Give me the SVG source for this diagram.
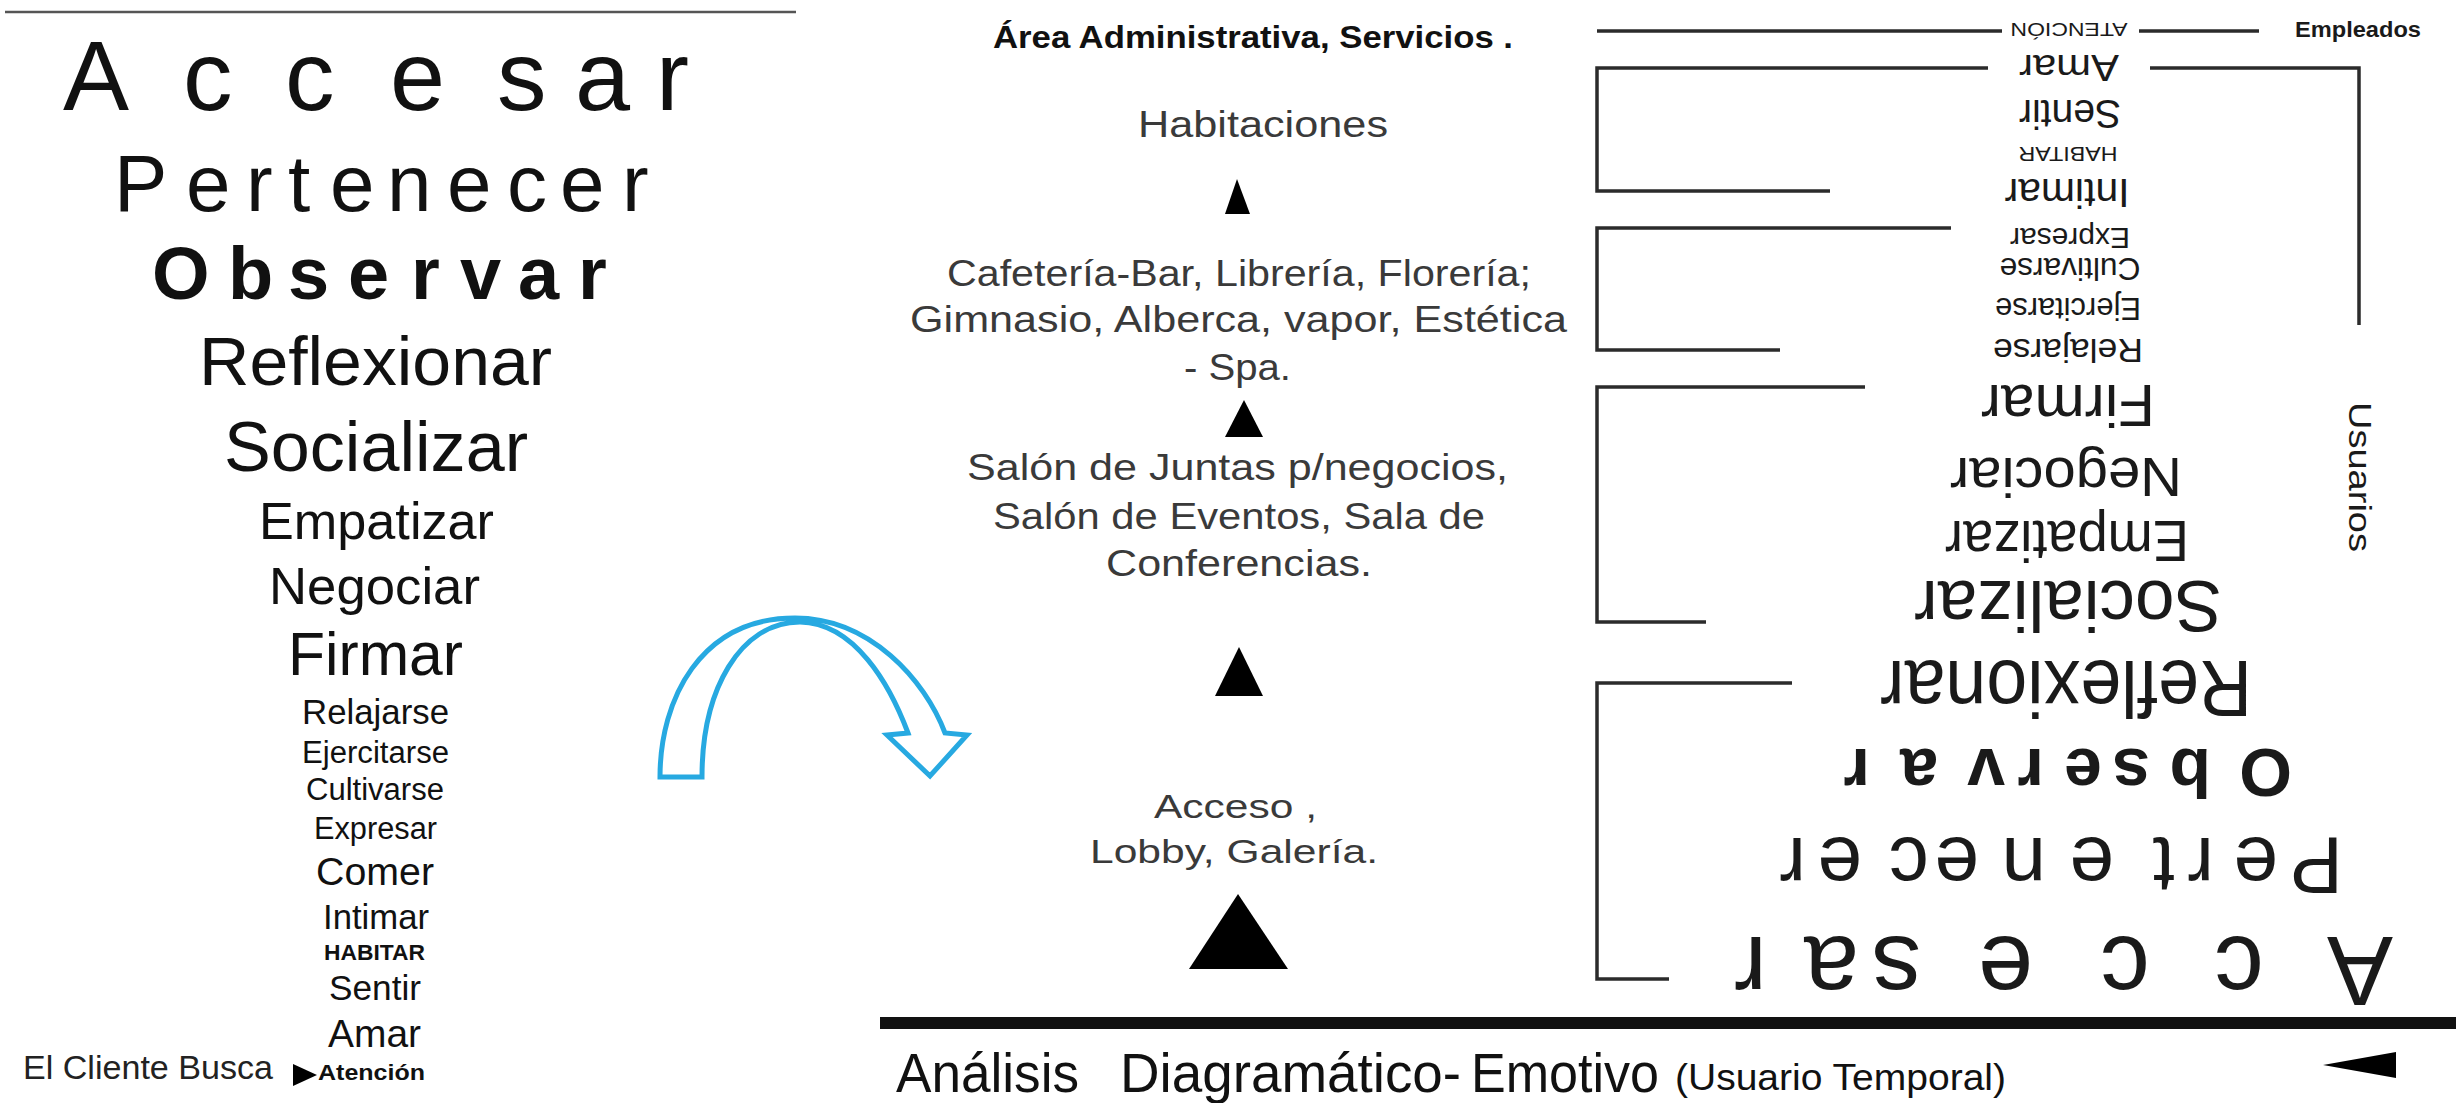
<svg xmlns="http://www.w3.org/2000/svg" width="2456" height="1103" viewBox="0 0 2456 1103">
<style>
text{font-family:"Liberation Sans",Arial,sans-serif;}
.l{fill:#111;}
.m{fill:#3a3a3a;}
.r{fill:#1a1a1a;}
.b{font-weight:bold;}
.br{fill:none;stroke:#2b2b2b;stroke-width:3.5;}
.tri{fill:#000;}
</style>
<rect width="2456" height="1103" fill="#fff"/>

<g id="left-column">
<line x1="5" y1="12" x2="796" y2="12" stroke="#555" stroke-width="2.5"/>
<text class="l" font-size="99" x="63 183 285 390 497 575 656" y="110">Accesar</text>
<text class="l" font-size="80" x="114 186 246 288 330 387 447 507 560 622" y="211">Pertenecer</text>
<text class="l b" font-size="74" x="152 228 288 348 411 460 518 578" y="299">Observar</text>
<text class="l" font-size="68" x="199" y="385" textLength="353" lengthAdjust="spacingAndGlyphs">Reflexionar</text>
<text class="l" font-size="70" x="224" y="471" textLength="304" lengthAdjust="spacingAndGlyphs">Socializar</text>
<text class="l" font-size="52" x="259" y="539" textLength="235" lengthAdjust="spacingAndGlyphs">Empatizar</text>
<text class="l" font-size="52" x="269" y="604" textLength="211" lengthAdjust="spacingAndGlyphs">Negociar</text>
<text class="l" font-size="61" x="288" y="675" textLength="175" lengthAdjust="spacingAndGlyphs">Firmar</text>
<text class="l" font-size="35" x="302" y="724" textLength="147" lengthAdjust="spacingAndGlyphs">Relajarse</text>
<text class="l" font-size="31" x="302" y="763" textLength="147" lengthAdjust="spacingAndGlyphs" fill="#333">Ejercitarse</text>
<text class="l" font-size="31" x="306" y="800" textLength="138" lengthAdjust="spacingAndGlyphs" fill="#333">Cultivarse</text>
<text class="l" font-size="31" x="314" y="839" textLength="123" lengthAdjust="spacingAndGlyphs" fill="#333">Expresar</text>
<text class="l" font-size="39" x="316" y="885" textLength="118" lengthAdjust="spacingAndGlyphs">Comer</text>
<text class="l" font-size="35" x="323" y="929" textLength="106" lengthAdjust="spacingAndGlyphs">Intimar</text>
<text class="l b" font-size="22" x="324" y="960" textLength="101" lengthAdjust="spacingAndGlyphs">HABITAR</text>
<text class="l" font-size="35" x="329" y="1000" textLength="92" lengthAdjust="spacingAndGlyphs">Sentir</text>
<text class="l" font-size="39" x="328" y="1047" textLength="93" lengthAdjust="spacingAndGlyphs">Amar</text>
</g>

<g id="cliente-busca">
<text font-family="'Open Sans',sans-serif" fill="#222" font-size="34" x="23" y="1079" textLength="250" lengthAdjust="spacingAndGlyphs">El Cliente Busca</text>
<polygon class="tri" points="293,1064 317,1075 293,1086"/>
<text class="l b" font-size="22" x="318" y="1080" textLength="107" lengthAdjust="spacingAndGlyphs">Atención</text>
</g>

<g id="blue-arrow">
<path d="M660 777 C660 700 700 618 795 618 C870 618 925 680 945 733 L967 735 L930 776 L887 735 L908 733 C890 685 855 623 800 622 C740 622 702 690 702 777 Z" fill="#fff" stroke="#27a9e1" stroke-width="5" stroke-linejoin="miter"/>
</g>

<g id="middle-column">
<text class="b" fill="#111" font-size="32" x="993" y="48" textLength="520" lengthAdjust="spacingAndGlyphs">Área Administrativa, Servicios .</text>
<text class="m" font-size="36" x="1138" y="137" textLength="250" lengthAdjust="spacingAndGlyphs">Habitaciones</text>
<polygon class="tri" points="1237,179 1250,214 1225,214"/>
<text class="m" font-size="36" x="947" y="286" textLength="584" lengthAdjust="spacingAndGlyphs">Cafetería-Bar, Librería, Florería;</text>
<text class="m" font-size="36" x="910" y="332" textLength="657" lengthAdjust="spacingAndGlyphs">Gimnasio, Alberca, vapor, Estética</text>
<text class="m" font-size="36" x="1184" y="380" textLength="107" lengthAdjust="spacingAndGlyphs">- Spa.</text>
<polygon class="tri" points="1244,400 1263,437 1225,437"/>
<text class="m" font-size="36" x="967" y="480" textLength="541" lengthAdjust="spacingAndGlyphs">Salón de Juntas p/negocios,</text>
<text class="m" font-size="36" x="993" y="529" textLength="492" lengthAdjust="spacingAndGlyphs">Salón de Eventos, Sala de</text>
<text class="m" font-size="36" x="1106" y="576" textLength="266" lengthAdjust="spacingAndGlyphs">Conferencias.</text>
<polygon class="tri" points="1239,647 1263,696 1215,696"/>
<text class="m" font-size="34" x="1154" y="818" textLength="163" lengthAdjust="spacingAndGlyphs">Acceso ,</text>
<text class="m" font-size="34" x="1090" y="863" textLength="288" lengthAdjust="spacingAndGlyphs" fill="#4a4a4a">Lobby, Galería.</text>
<polygon class="tri" points="1238,894 1288,969 1189,969"/>
</g>

<g id="connectors">
<line x1="1597" y1="31" x2="2002" y2="31" class="br" stroke-width="4"/>
<line x1="2139" y1="31" x2="2259" y2="31" class="br" stroke-width="4"/>
<polyline class="br" points="1988,68 1597,68 1597,191 1830,191"/>
<polyline class="br" points="2150,68 2359,68 2359,325"/>
<polyline class="br" points="1951,228 1597,228 1597,350 1780,350"/>
<polyline class="br" points="1865,387 1597,387 1597,622 1706,622"/>
<polyline class="br" points="1792,683 1597,683 1597,979 1669,979"/>
<line x1="880" y1="1023" x2="2456" y2="1023" stroke="#111" stroke-width="12"/>
</g>

<g id="right-column">
<text class="r" font-size="18" x="2069" y="23" text-anchor="middle" textLength="117" lengthAdjust="spacingAndGlyphs" transform="rotate(180 2069 23)">ATENCIÓN</text>
<text class="r" font-size="36" x="2069" y="55" text-anchor="middle" textLength="100" lengthAdjust="spacingAndGlyphs" transform="rotate(180 2069 55)">Amar</text>
<text class="r" font-size="40" x="2070" y="100" text-anchor="middle" textLength="102" lengthAdjust="spacingAndGlyphs" transform="rotate(180 2070 100)">Sentir</text>
<text class="r" font-size="21" x="2068" y="147" text-anchor="middle" textLength="99" lengthAdjust="spacingAndGlyphs" transform="rotate(180 2068 147)">HABITAR</text>
<text class="r" font-size="41" x="2067" y="179" text-anchor="middle" textLength="125" lengthAdjust="spacingAndGlyphs" transform="rotate(180 2067 179)">Intimar</text>
<text class="r" font-size="30" x="2070" y="228" text-anchor="middle" textLength="120" lengthAdjust="spacingAndGlyphs" transform="rotate(180 2070 228)">Expresar</text>
<text class="r" font-size="31" x="2070" y="258" text-anchor="middle" textLength="141" lengthAdjust="spacingAndGlyphs" transform="rotate(180 2070 258)">Cultivarse</text>
<text class="r" font-size="32" x="2068" y="298" text-anchor="middle" textLength="146" lengthAdjust="spacingAndGlyphs" transform="rotate(180 2068 298)">Ejercitarse</text>
<text class="r" font-size="33" x="2068" y="339" text-anchor="middle" textLength="150" lengthAdjust="spacingAndGlyphs" transform="rotate(180 2068 339)">Relajarse</text>
<text class="r" font-size="60" x="2068" y="385" text-anchor="middle" textLength="174" lengthAdjust="spacingAndGlyphs" transform="rotate(180 2068 385)">Firmar</text>
<text class="r" font-size="56" x="2066" y="458" text-anchor="middle" textLength="232" lengthAdjust="spacingAndGlyphs" transform="rotate(180 2066 458)">Negociar</text>
<text class="r" font-size="58" x="2067" y="521" text-anchor="middle" textLength="244" lengthAdjust="spacingAndGlyphs" transform="rotate(180 2067 521)">Empatizar</text>
<text class="r" font-size="72" x="2068" y="581" text-anchor="middle" textLength="308" lengthAdjust="spacingAndGlyphs" transform="rotate(180 2068 581)">Socializar</text>
<text class="r" font-size="80" x="2066" y="661" text-anchor="middle" textLength="372" lengthAdjust="spacingAndGlyphs" transform="rotate(180 2066 661)">Reflexionar</text>
<text class="r b" font-size="68" x="1844 1925 1986 2034 2092 2131 2198 2266" y="749" transform="rotate(180 2068 749)">Observar</text>
<text class="r" font-size="80" x="1793 1858 1922 1961 2022 2090 2157 2207 2274 2330" y="838" transform="rotate(180 2068 838)">Pertenecer</text>
<text class="r" font-size="99" x="1743 1872 1986 2103 2215 2277 2369" y="937" transform="rotate(180 2068 937)">Accesar</text>
<text class="r" font-size="31" x="0" y="0" text-anchor="middle" textLength="150" lengthAdjust="spacingAndGlyphs" transform="translate(2349 477) rotate(90)" fill="#333">Usuarios</text>
<text class="r b" font-size="22" x="2295" y="37" textLength="126" lengthAdjust="spacingAndGlyphs" fill="#222">Empleados</text>
</g>

<g id="footer">
<text class="l" font-size="56" x="896" y="1092" textLength="183" lengthAdjust="spacingAndGlyphs">Análisis</text>
<text class="l" font-size="56" x="1120" y="1092" textLength="341" lengthAdjust="spacingAndGlyphs">Diagramático-</text>
<text class="l" font-size="56" x="1471" y="1092" textLength="188" lengthAdjust="spacingAndGlyphs">Emotivo</text>
<text class="l" font-size="36" x="1675" y="1090" textLength="331" lengthAdjust="spacingAndGlyphs" fill="#222">(Usuario Temporal)</text>
<polygon class="tri" points="2323,1065 2396,1052 2396,1078"/>
</g>
</svg>
